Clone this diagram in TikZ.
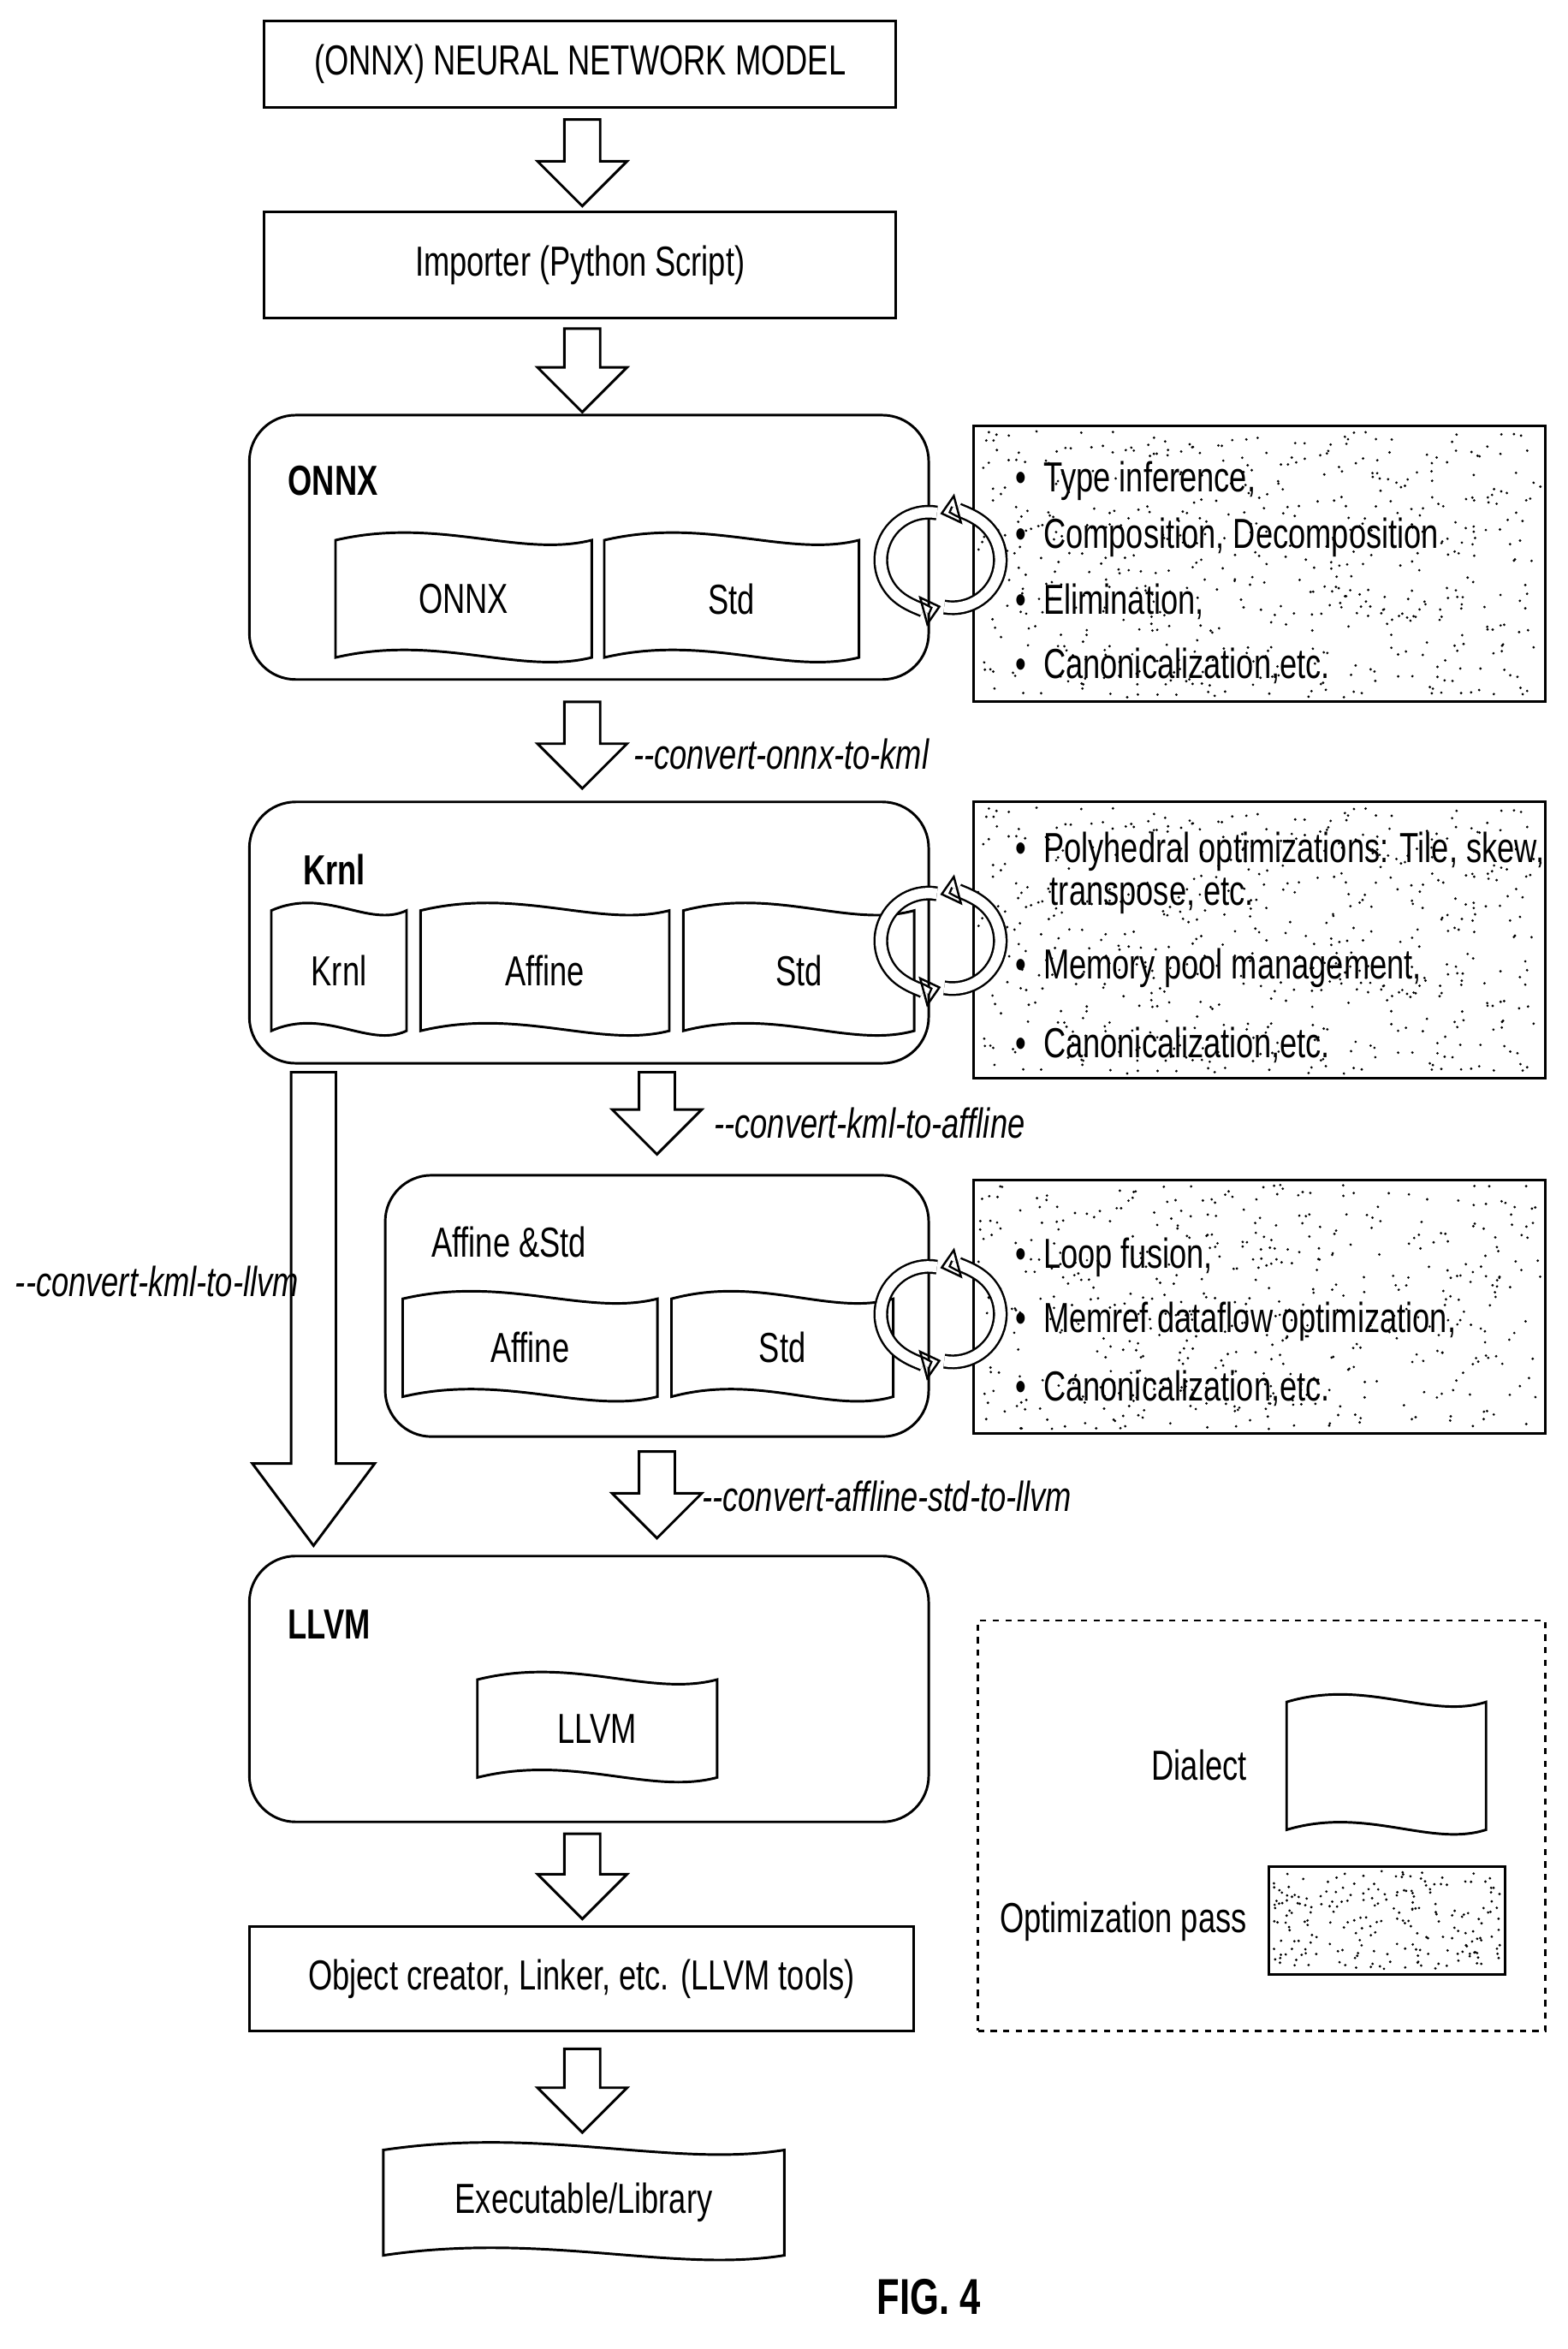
\documentclass[tikz,border=0pt]{standalone}
\usepackage{fontspec}
\setmainfont{Liberation Sans}[FakeStretch=0.74]
\usetikzlibrary{fit,calc,arrows.meta}
\tikzset{
	box/.style      = {draw, line width=1.2pt, inner sep=0pt},
	cont/.style     = {draw, line width=1.2pt, rounded corners=22pt, inner sep=0pt},
	opt/.style      = {draw, line width=1.2pt, inner sep=0pt},
	dialect/.style  = {inner sep=0pt},
	bigarrow/.style = {draw, line width=1.2pt, fill=white, line join=miter},
	item/.style     = {anchor=west, inner sep=0pt},
	pass/.style     = {anchor=west, inner sep=0pt, font=\fontsize{20}{24}\selectfont\itshape}
}
% wavy outline of a dialect node
\newcommand{\wavy}[1]{%
	\draw[line width=1.2pt, fill=white]
	(#1.north west) .. controls ($(#1.north west)!0.4!(#1.north east)+(0,-16)$)
	and ($(#1.north west)!0.72!(#1.north east)+(0,12)$) .. (#1.north east)
	-- (#1.south east) .. controls ($(#1.south west)!0.72!(#1.south east)+(0,12)$)
	and ($(#1.south west)!0.4!(#1.south east)+(0,-16)$) .. (#1.south west) -- cycle;}
% hollow down arrow: x, top, bottom, half shaft, half head, head length
\newcommand{\blockarrow}[6]{%
	\draw[bigarrow] (#1-#4,#2) -- (#1+#4,#2) -- (#1+#4,#3-#6) -- (#1+#5,#3-#6)
	-- (#1,#3) -- (#1-#5,#3-#6) -- (#1-#4,#3-#6) -- cycle;}
% pair of round arrows between a dialect box and its passes
\newcommand{\turn}[2]{%
	\draw[line width=1pt, double=white, double distance=5pt, -{Triangle[open,length=9pt,width=15pt]}]
	(#1-6+5.5,#2-31.5) arc[start angle=-80, end angle=-285, radius=32];
	\draw[line width=1pt, double=white, double distance=5pt, -{Triangle[open,length=9pt,width=15pt]}]
	(#1+10-5.6,#2+31.5) arc[start angle=100, end angle=-105, radius=32];}
% random dots of an optimization pass
\newcommand{\speckle}[5]{%
	\pgfmathsetseed{#5}
	\foreach \i in {1,...,#5}
	\fill ({#1+3+rnd*(#3-#1-6)},{#2+3+rnd*(#4-#2-6)}) circle[radius=0.9];}

\begin{document}
\begin{tikzpicture}[x=0.025cm, y=-0.025cm, font=\fontsize{20}{24}\selectfont]
	\useasboundingbox (0,0) rectangle (1050,1573);

	% top boxes
	\node[box, fit={(177,14)(600,72)}] (model) {};
	\node at (model.center) {(ONNX) NEURAL NETWORK MODEL};
	\node[box, fit={(177,142)(600,213)}] (imp) {};
	\node at (imp.center) {Importer (Python Script)};

	% ONNX level
	\node[cont, fit={(167,278)(622,455)}] (onnx) {};
	\node[anchor=west, font=\fontsize{20}{24}\selectfont\bfseries] (onnxl) at (188,322) {ONNX};
	\node[dialect, fit={(225,362)(396,440)}] (d11) {}; \wavy{d11}
	\node at (d11.center) {ONNX};
	\node[dialect, fit={(405,362)(575,440)}] (d12) {}; \wavy{d12}
	\node at (d12.center) {Std};
	\node[opt, fit={(652,285)(1035,470)}] (o1) {};
	\speckle{652}{285}{1035}{470}{560}
	\node[item] at (680,322) {\textbullet\hspace{8pt}Type inference,};
	\node[item] at (680,360) {\textbullet\hspace{8pt}Composition, Decomposition};
	\node[item] at (680,403) {\textbullet\hspace{8pt}Elimination,};
	\node[item] at (680,446) {\textbullet\hspace{8pt}Canonicalization,etc.};
	\turn{628}{375}

	% Krnl level
	\node[cont, fit={(167,537)(622,712)}] (krnl) {};
	\node[anchor=west, font=\fontsize{20}{24}\selectfont\bfseries] at (198,582) {Krnl};
	\node[dialect, fit={(182,610)(272,690)}] (d21) {}; \wavy{d21}
	\node at (d21.center) {Krnl};
	\node[dialect, fit={(282,610)(448,690)}] (d22) {}; \wavy{d22}
	\node at (d22.center) {Affine};
	\node[dialect, fit={(458,610)(612,690)}] (d23) {}; \wavy{d23}
	\node at (d23.center) {Std};
	\node[opt, fit={(652,537)(1035,722)}] (o2) {};
	\speckle{652}{537}{1035}{722}{560}
	\node[item] at (680,570) {\textbullet\hspace{8pt}Polyhedral optimizations: Tile, skew,};
	\node[item] at (703,600) {transpose, etc.};
	\node[item] at (680,648) {\textbullet\hspace{8pt}Memory pool management,};
	\node[item] at (680,700) {\textbullet\hspace{8pt}Canonicalization,etc.};
	\turn{628}{630}

	% Affine & Std level
	\node[cont, fit={(258,787)(622,962)}] (aff) {};
	\node[anchor=west] at (284,832) {Affine \&Std};
	\node[dialect, fit={(270,870)(440,935)}] (d31) {}; \wavy{d31}
	\node at (d31.center) {Affine};
	\node[dialect, fit={(450,870)(598,935)}] (d32) {}; \wavy{d32}
	\node at (d32.center) {Std};
	\node[opt, fit={(652,790)(1035,960)}] (o3) {};
	\speckle{652}{790}{1035}{960}{520}
	\node[item] at (680,842) {\textbullet\hspace{8pt}Loop fusion,};
	\node[item] at (680,885) {\textbullet\hspace{8pt}Memref dataflow optimization,};
	\node[item] at (680,930) {\textbullet\hspace{8pt}Canonicalization,etc.};
	\turn{628}{880}

	% LLVM level
	\node[cont, fit={(167,1042)(622,1220)}] (llvm) {};
	\node[anchor=west, font=\fontsize{20}{24}\selectfont\bfseries] at (188,1088) {LLVM};
	\node[dialect, fit={(320,1125)(480,1190)}] (d41) {}; \wavy{d41}
	\node at (d41.center) {LLVM};

	% tools and output
	\node[box, fit={(167,1290)(612,1360)}] (tools) {};
	\node at (tools.center) {Object creator, Linker, etc. (LLVM tools)};
	\node[dialect, fit={(257,1440)(525,1510)}] (exe) {}; \wavy{exe}
	\node at (exe.center) {Executable/Library};
	\node[font=\fontsize{24}{28}\selectfont\bfseries] (fig) at (622,1538) {FIG. 4};

	% block arrows
	\blockarrow{390}{80}{138}{12}{30}{30}
	\blockarrow{390}{220}{276}{12}{30}{30}
	\blockarrow{390}{470}{528}{12}{30}{30}
	\blockarrow{440}{718}{773}{12}{30}{30}
	\blockarrow{440}{972}{1030}{12}{30}{30}
	\blockarrow{390}{1228}{1285}{12}{30}{30}
	\blockarrow{390}{1372}{1428}{12}{30}{30}
	\blockarrow{210}{718}{1035}{15}{41}{55}
	\node[pass] at (424,505) {-{}-convert-onnx-to-kml};
	\node[pass] at (478,752) {-{}-convert-kml-to-affline};
	\node[pass] at (470,1002) {-{}-convert-affline-std-to-llvm};
	\node[pass] at (10,858) {-{}-convert-kml-to-llvm};

	% legend
	\node[draw, dashed, line width=1pt, fit={(655,1085)(1035,1360)}, inner sep=0pt] (leg) {};
	\node[dialect, fit={(862,1140)(995,1225)}] (ld) {}; \wavy{ld}
	\node[anchor=east] at (840,1182) {Dialect};
	\node[opt, fit={(850,1250)(1008,1322)}] (lo) {};
	\speckle{850}{1250}{1008}{1322}{220}
	\node[anchor=east] at (840,1287) {Optimization pass};
\end{tikzpicture}
\end{document}
